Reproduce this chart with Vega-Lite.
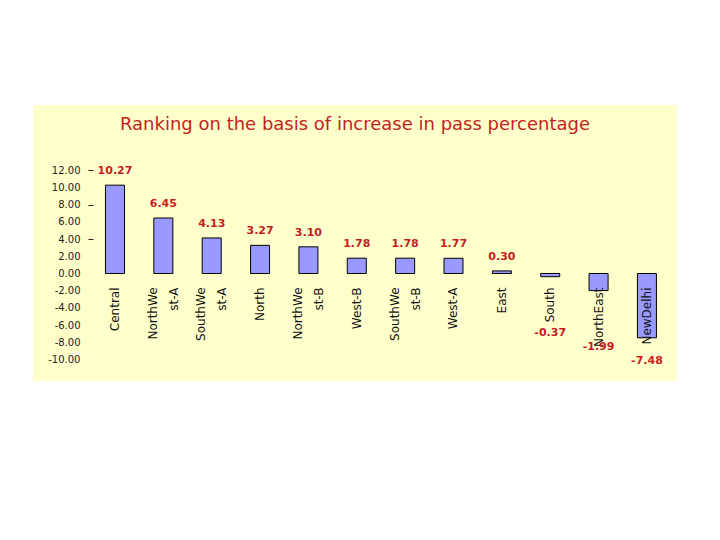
{
  "$schema": "https://vega.github.io/schema/vega-lite/v6.json",
  "width": 644,
  "height": 276,
  "autosize": {"type": "none"},
  "padding": {"left": 33, "top": 105, "right": 43, "bottom": 159},
  "background": "white",
  "config": {
    "view": {"fill": "#FFFFCC", "stroke": null},
    "locale": {"number": {"decimal": ".", "thousands": ",", "grouping": [3], "currency": ["$", ""], "minus": "-"}}
  },
  "title": {
    "text": "Ranking on the basis of increase in pass percentage",
    "color": "#C41E1E",
    "font": "DejaVu Sans",
    "fontSize": 18,
    "fontWeight": "normal",
    "anchor": "middle",
    "baseline": "middle",
    "offset": -38
  },
  "data": {
    "values": [
      {"region": "Central", "label": ["Central"], "value": 10.27},
      {"region": "NorthWest-A", "label": ["NorthWe", "st-A"], "value": 6.45},
      {"region": "SouthWest-A", "label": ["SouthWe", "st-A"], "value": 4.13},
      {"region": "North", "label": ["North"], "value": 3.27},
      {"region": "NorthWest-B", "label": ["NorthWe", "st-B"], "value": 3.10},
      {"region": "West-B", "label": ["West-B"], "value": 1.78},
      {"region": "SouthWest-B", "label": ["SouthWe", "st-B"], "value": 1.78},
      {"region": "West-A", "label": ["West-A"], "value": 1.77},
      {"region": "East", "label": ["East"], "value": 0.30},
      {"region": "South", "label": ["South"], "value": -0.37},
      {"region": "NorthEast", "label": ["NorthEast"], "value": -1.99},
      {"region": "NewDelhi", "label": ["NewDelhi"], "value": -7.48}
    ]
  },
  "encoding": {
    "x": {
      "field": "region",
      "type": "nominal",
      "sort": null,
      "scale": {"paddingInner": 0.607, "paddingOuter": 0.962, "align": 0.779},
      "axis": null
    }
  },
  "resolve": {"axis": {"y": "independent"}},
  "layer": [
    {
      "mark": {"type": "bar", "fill": "#9999FF", "stroke": "#000000", "strokeWidth": 1},
      "encoding": {
        "y": {
          "field": "value",
          "type": "quantitative",
          "scale": {"domain": [-12.5, 19.59], "nice": false, "zero": false},
          "axis": {
            "orient": "left",
            "values": [-10, -8, -6, -4, -2, 0, 2, 4, 6, 8, 10, 12],
            "format": ".2f",
            "labelOverlap": false,
            "grid": false,
            "domain": false,
            "ticks": false,
            "labelPadding": 13,
            "offset": -60,
            "labelFont": "DejaVu Sans",
            "labelFontSize": 10,
            "labelColor": "#222222",
            "title": null
          }
        }
      }
    },
    {
      "transform": [{"filter": "length(datum.label) == 1"}],
      "mark": {"type": "text", "angle": 270, "align": "right", "baseline": "middle", "font": "DejaVu Sans", "fontSize": 12, "color": "#111111", "yOffset": 14},
      "encoding": {
        "y": {"datum": 0, "type": "quantitative", "axis": null},
        "text": {"field": "label"}
      }
    },
    {
      "transform": [{"filter": "length(datum.label) > 1"}],
      "mark": {"type": "text", "angle": 270, "align": "right", "baseline": "middle", "font": "DejaVu Sans", "fontSize": 12, "color": "#111111", "lineHeight": 21, "yOffset": 14, "xOffset": -10.5},
      "encoding": {
        "y": {"datum": 0, "type": "quantitative", "axis": null},
        "text": {"field": "label"}
      }
    },
    {
      "transform": [{"filter": "datum.value >= 0"}],
      "mark": {"type": "text", "baseline": "middle", "font": "DejaVu Sans", "fontSize": 11, "fontWeight": "bold", "color": "#C41E1E", "dy": -14},
      "encoding": {
        "y": {
          "field": "value",
          "type": "quantitative",
          "axis": {
            "orient": "left",
            "values": [4, 8, 12],
            "labels": false,
            "grid": false,
            "domain": false,
            "ticks": true,
            "tickSize": 5,
            "tickWidth": 1,
            "tickColor": "#222222",
            "offset": -60,
            "title": null
          }
        },
        "text": {"field": "value", "type": "quantitative", "format": ".2f"}
      }
    },
    {
      "transform": [{"filter": "datum.value < 0 && datum.value > -5"}],
      "mark": {"type": "text", "baseline": "middle", "font": "DejaVu Sans", "fontSize": 11, "fontWeight": "bold", "color": "#C41E1E", "dy": 56},
      "encoding": {
        "y": {"field": "value", "type": "quantitative", "axis": null},
        "text": {"field": "value", "type": "quantitative", "format": ".2f"}
      }
    },
    {
      "transform": [{"filter": "datum.value <= -5"}],
      "mark": {"type": "text", "baseline": "middle", "font": "DejaVu Sans", "fontSize": 11, "fontWeight": "bold", "color": "#C41E1E", "dy": 23},
      "encoding": {
        "y": {"field": "value", "type": "quantitative", "axis": null},
        "text": {"field": "value", "type": "quantitative", "format": ".2f"}
      }
    }
  ]
}
